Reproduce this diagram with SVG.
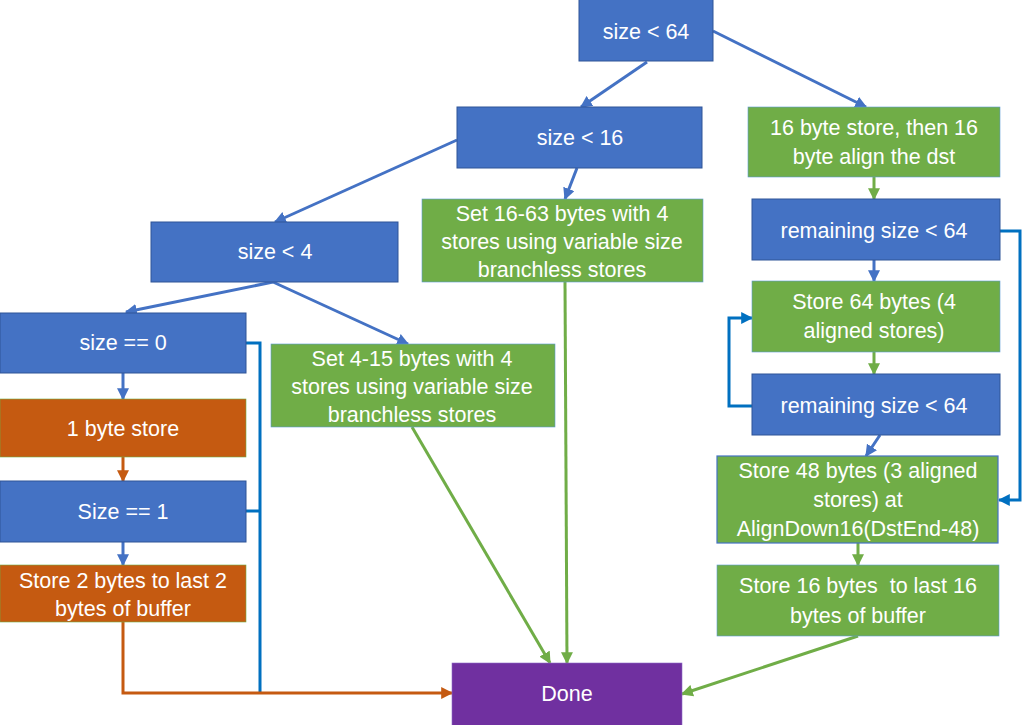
<svg xmlns="http://www.w3.org/2000/svg" width="1024" height="725" viewBox="0 0 1024 725">
<style>
.b{fill:#4472C4;stroke:#2F5597;stroke-width:1}
.g{fill:#70AD47;stroke:#5B9BD5;stroke-width:0.6}
.g2{fill:#70AD47;stroke:#4472C4;stroke-width:1.2}
.o{fill:#C55A11;stroke:#70AD47;stroke-width:0.6}
.p{fill:#7030A0;stroke:#8E6BC5;stroke-width:0.6}
text{font-family:"Liberation Sans",Arial,sans-serif;font-size:21.5px;fill:#fff;text-anchor:middle}
.cb{stroke:#4472C4;stroke-width:3;fill:none}
.cd{stroke:#0070C0;stroke-width:3;fill:none}
.cg{stroke:#70AD47;stroke-width:3;fill:none}
.co{stroke:#C55A11;stroke-width:3;fill:none}
</style>
<defs>
<marker id="ab" viewBox="0 0 10 10" refX="9" refY="5" markerWidth="4" markerHeight="4" orient="auto"><path d="M0,0L10,5L0,10z" fill="#4472C4"/></marker>
<marker id="ad" viewBox="0 0 10 10" refX="9" refY="5" markerWidth="4" markerHeight="4" orient="auto"><path d="M0,0L10,5L0,10z" fill="#0070C0"/></marker>
<marker id="ag" viewBox="0 0 10 10" refX="9" refY="5" markerWidth="4" markerHeight="4" orient="auto"><path d="M0,0L10,5L0,10z" fill="#70AD47"/></marker>
<marker id="ao" viewBox="0 0 10 10" refX="9" refY="5" markerWidth="4" markerHeight="4" orient="auto"><path d="M0,0L10,5L0,10z" fill="#C55A11"/></marker>
</defs>
<g id="connectors">
<path class="cb" marker-end="url(#ab)" d="M647,62L581,107"/>
<path class="cb" marker-end="url(#ab)" d="M713,31L866,107"/>
<path class="cb" marker-end="url(#ab)" d="M457,140L275,222"/>
<path class="cb" marker-end="url(#ab)" d="M577,168L565,199"/>
<path class="cg" marker-end="url(#ag)" d="M874,177L874,199"/>
<path class="cb" marker-end="url(#ab)" d="M874,260L874,281"/>
<path class="cg" marker-end="url(#ag)" d="M874,352L874,374"/>
<path class="cb" marker-end="url(#ab)" d="M880,435L866,456"/>
<path class="cg" marker-end="url(#ag)" d="M858,543L858,565"/>
<path class="cg" marker-end="url(#ag)" d="M858,636L682,694"/>
<path class="cd" marker-end="url(#ad)" d="M752,406L729,406L729,318L752,318"/>
<path class="cd" marker-end="url(#ad)" d="M1000,231L1020,231L1020,500L999,500"/>
<path class="cb" marker-end="url(#ab)" d="M273,282L126,312"/>
<path class="cb" marker-end="url(#ab)" d="M273,282L408,344"/>
<path class="cb" marker-end="url(#ab)" d="M123,373L123,399"/>
<path class="co" marker-end="url(#ao)" d="M123,457L123,481"/>
<path class="cb" marker-end="url(#ab)" d="M123,542L123,565"/>
<path class="cd" d="M246,343L260,343L260,692"/>
<path class="cd" d="M246,511L260,511"/>
<path class="co" marker-end="url(#ao)" d="M123,622L123,693L452,693"/>
<path class="cg" marker-end="url(#ag)" d="M565,282L567,663"/>
<path class="cg" marker-end="url(#ag)" d="M412,427L550,663"/>
</g>
<g id="n1"><rect class="b" x="579" y="-1" width="134" height="62"/><text x="646" y="39">size &lt; 64</text></g>
<g id="n2"><rect class="b" x="457" y="107" width="245" height="61"/><text x="580" y="145">size &lt; 16</text></g>
<g id="n3"><rect class="g" x="748" y="107" width="252" height="70"/><text x="874" y="135">16 byte store, then 16</text><text x="874" y="164">byte align the dst</text></g>
<g id="n4"><rect class="g" x="422" y="199" width="281" height="83"/><text x="562" y="221">Set 16-63 bytes with 4</text><text x="562" y="249">stores using variable size</text><text x="562" y="277">branchless stores</text></g>
<g id="n5"><rect class="b" x="151" y="222" width="247" height="60"/><text x="275" y="259">size &lt; 4</text></g>
<g id="n6"><rect class="b" x="752" y="199" width="248" height="61"/><text x="874" y="238">remaining size &lt; 64</text></g>
<g id="n7"><rect class="g" x="752" y="281" width="248" height="71"/><text x="874" y="309">Store 64 bytes (4</text><text x="874" y="338">aligned stores)</text></g>
<g id="n8"><rect class="b" x="752" y="374" width="248" height="61"/><text x="874" y="413">remaining size &lt; 64</text></g>
<g id="n9"><rect class="g2" x="717" y="456" width="281" height="87"/><text x="858" y="478">Store 48 bytes (3 aligned</text><text x="858" y="507">stores) at</text><text x="858" y="536">AlignDown16(DstEnd-48)</text></g>
<g id="n10"><rect class="g" x="717" y="565" width="282" height="71"/><text x="858" y="593" xml:space="preserve">Store 16 bytes  to last 16</text><text x="858" y="623">bytes of buffer</text></g>
<g id="n11"><rect class="b" x="0" y="313" width="246" height="60"/><text x="123" y="350">size == 0</text></g>
<g id="n12"><rect class="g" x="271" y="344" width="284" height="83"/><text x="412" y="366">Set 4-15 bytes with 4</text><text x="412" y="394">stores using variable size</text><text x="412" y="422">branchless stores</text></g>
<g id="n13"><rect class="o" x="0" y="399" width="246" height="58"/><text x="123" y="436">1 byte store</text></g>
<g id="n14"><rect class="b" x="0" y="481" width="246" height="61"/><text x="123" y="519">Size == 1</text></g>
<g id="n15"><rect class="o" x="0" y="565" width="246" height="57"/><text x="123" y="588">Store 2 bytes to last 2</text><text x="123" y="616">bytes of buffer</text></g>
<g id="n16"><rect class="p" x="452" y="663" width="230" height="63"/><text x="567" y="701">Done</text></g>
</svg>
